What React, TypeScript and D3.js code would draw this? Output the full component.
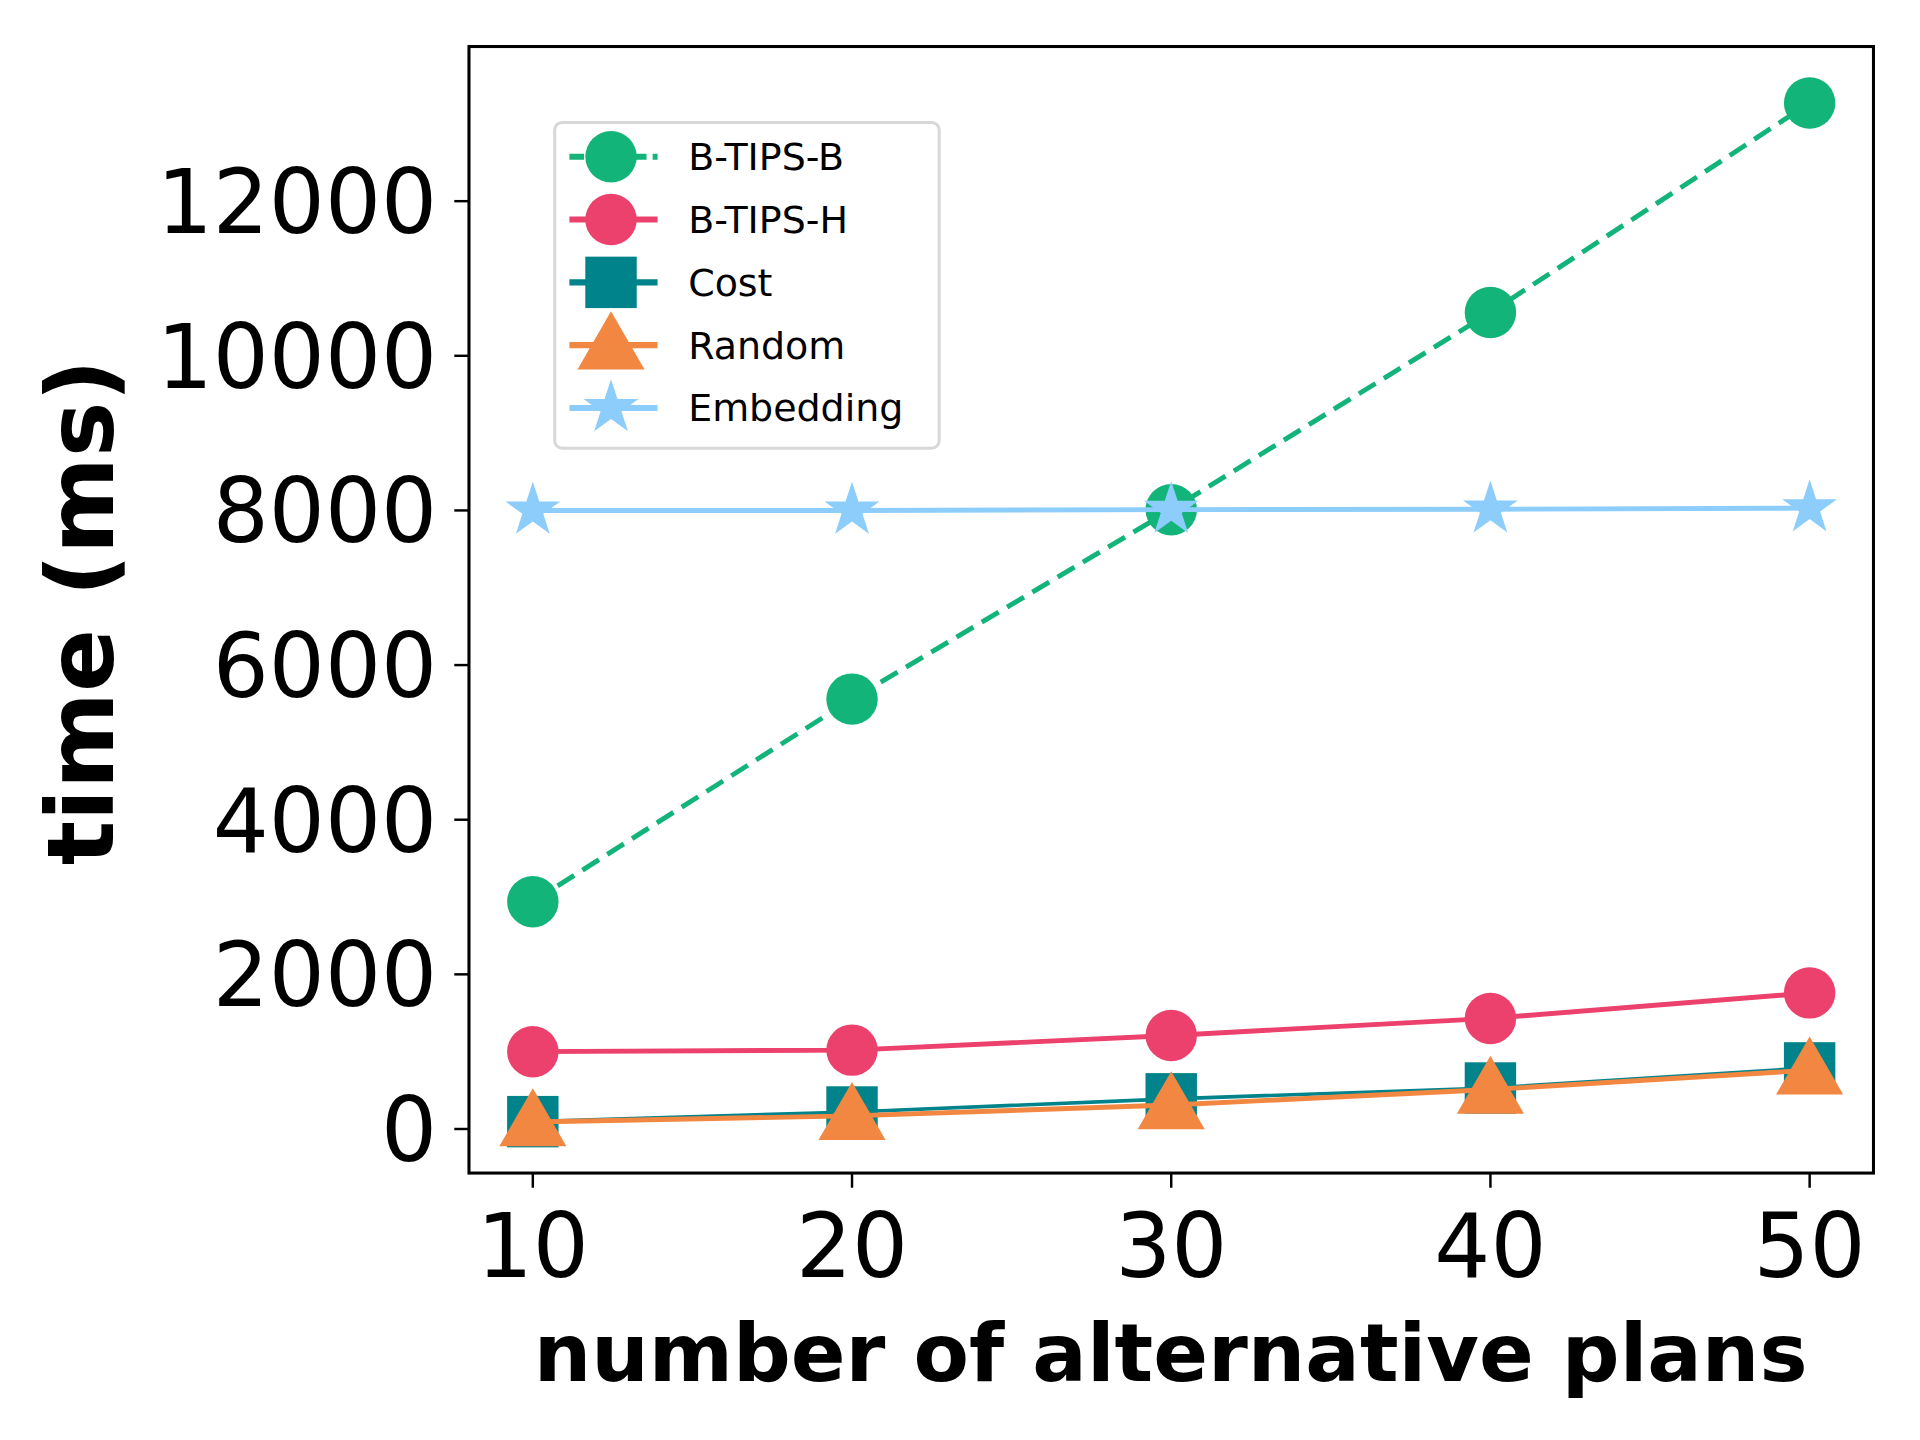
import * as d3 from "d3";

const xValues = [10, 20, 30, 40, 50];
const yTicks = [0, 2000, 4000, 6000, 8000, 10000, 12000];
const btipsB = [2940, 5560, 8010, 10560, 13270];
const btipsH = [1000, 1020, 1210, 1430, 1760];
const cost = [95, 220, 390, 530, 790];
const random = [90, 170, 310, 510, 760];
const embedding = [8000, 8000, 8010, 8015, 8030];

const seriesList = [
    { name: "B-TIPS-B", values: btipsB, color: "#12b479", marker: "circle", dash: "16,8" },
    { name: "B-TIPS-H", values: btipsH, color: "#ec416c", marker: "circle", dash: "" },
    { name: "Cost", values: cost, color: "#00838a", marker: "square", dash: "" },
    { name: "Random", values: random, color: "#f28742", marker: "triangle", dash: "" },
    { name: "Embedding", values: embedding, color: "#8ccdfc", marker: "star", dash: "" },
];

const W = 1568, H = 1176;
const margin = { left: 383, right: 38, top: 38, bottom: 218 };

const marker = (type: string, cx: number, cy: number, color: string, key: string | number) => {
    if (type === "circle") return <circle key={key} cx={cx} cy={cy} r={21} fill={color} />;
    if (type === "square") return <rect key={key} x={cx - 21} y={cy - 21} width={42} height={42} fill={color} />;
    if (type === "triangle") {
        const p = d3.symbol(d3.symbolTriangle, 1300)();
        return <path key={key} d={p || ""} transform={`translate(${cx},${cy + 4})`} fill={color} />;
    }
    const s = d3.symbol(d3.symbolStar, 620)();
    return <path key={key} d={s || ""} transform={`translate(${cx},${cy})`} fill={color} />;
};

export default function App() {
    const x = d3.scaleLinear().domain([8, 52]).range([margin.left, W - margin.right]);
    const y = d3.scaleLinear().domain([-570, 14000]).range([H - margin.bottom, margin.top]);
    const line = d3.line<number>().x((_, i) => x(xValues[i])).y(d => y(d));
    const font = "DejaVu Sans";
    return (
        <svg width={1920} height={1440} viewBox={`0 0 ${W} ${H}`} style={{ display: "block", margin: -8 }}>
            <rect width={W} height={H} fill="white" />
            {seriesList.map(s => (
                <g key={s.name}>
                    <path d={line(s.values) || ""} fill="none" stroke={s.color} strokeWidth={s.name === "Cost" ? 3 : 4} strokeDasharray={s.dash} />
                    {s.values.map((v, i) => marker(s.marker, x(xValues[i]), y(v), s.color, i))}
                </g>
            ))}
            <rect x={margin.left} y={margin.top} width={W - margin.left - margin.right} height={H - margin.top - margin.bottom} fill="none" stroke="black" strokeWidth={2.5} />
            {xValues.map(v => (
                <g key={v}>
                    <line x1={x(v)} x2={x(v)} y1={H - margin.bottom} y2={H - margin.bottom + 12} stroke="black" strokeWidth={2} />
                    <text x={x(v)} y={H - margin.bottom + 85} textAnchor="middle" fontFamily={font} fontSize={72}>{v}</text>
                </g>
            ))}
            {yTicks.map(v => (
                <g key={v}>
                    <line x1={margin.left - 12} x2={margin.left} y1={y(v)} y2={y(v)} stroke="black" strokeWidth={2} />
                    <text x={margin.left - 26} y={y(v) + 26} textAnchor="end" fontFamily={font} fontSize={72}>{v}</text>
                </g>
            ))}
            <text x={956} y={1128} textAnchor="middle" fontFamily={font} fontWeight="bold" fontSize={66}>number of alternative plans</text>
            <text transform={`translate(92,500) rotate(-90)`} textAnchor="middle" fontFamily={font} fontWeight="bold" fontSize={76}>time (ms)</text>
            <rect x={453} y={100} width={314} height={266} rx={6} fill="white" fillOpacity={0.8} stroke="#d8d8d8" strokeWidth={2.5} />
            {seriesList.map((s, i) => {
                const ly = 128 + i * 51.3;
                return (
                    <g key={s.name}>
                        <line x1={465} x2={537} y1={ly} y2={ly} stroke={s.color} strokeWidth={5} strokeDasharray={s.dash ? "12,5" : ""} />
                        {marker(s.marker, 499, ly, s.color, "m")}
                        <text x={562} y={ly + 11} fontFamily={font} fontSize={31}>{s.name}</text>
                    </g>
                );
            })}
        </svg>
    );
}
